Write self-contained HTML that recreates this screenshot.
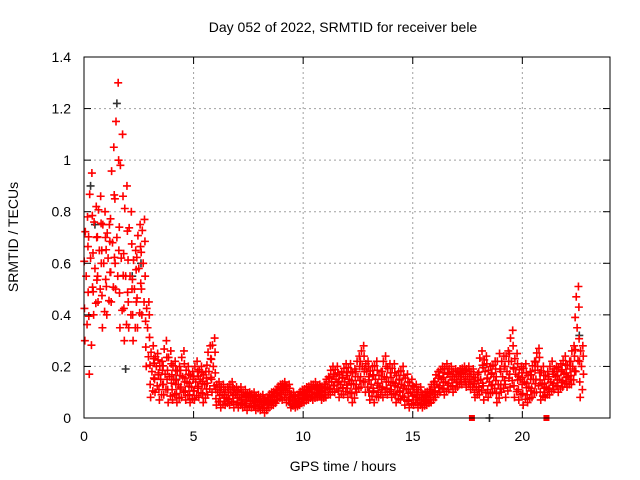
<!DOCTYPE html>
<html><head><meta charset="utf-8"><style>
body{margin:0;background:#fff;}
svg{display:block;font-family:"Liberation Sans",sans-serif;}
</style></head><body>
<svg id="chart" width="640" height="480" viewBox="0 0 640 480">
<rect width="640" height="480" fill="#fff"/>
<text x="343" y="32" font-size="14" text-anchor="middle">Day 052 of 2022, SRMTID for receiver bele</text>
<text x="343" y="471" font-size="14" text-anchor="middle">GPS time / hours</text>
<text transform="translate(18,237) rotate(-90)" font-size="14" text-anchor="middle">SRMTID / TECUs</text>
<g id="grid"></g>
<g id="marks"></g>
<g id="axes"></g>
</svg>
<script>
const xTicks=[0,5,10,15,20];
const yTicks=[0,0.2,0.4,0.6,0.8,1,1.2,1.4];
const yTickLabels=["0","0.2","0.4","0.6","0.8","1","1.2","1.4"];
const times=[0.1,0.3,0.5,0.7,0.9,1.1,1.3,1.5,1.7,1.9,2.1,2.3,2.5,2.7,2.9,3.1,3.3,3.5,3.7,3.9,4.1,4.3,4.5,4.7,4.9,5.1,5.3,5.5,5.7,5.9,6.1,6.3,6.5,6.7,6.9,7.1,7.3,7.5,7.7,7.9,8.1,8.3,8.5,8.7,8.9,9.1,9.3,9.5,9.7,9.9,10.1,10.3,10.5,10.7,10.9,11.1,11.3,11.5,11.7,11.9,12.1,12.3,12.5,12.7,12.9,13.1,13.3,13.5,13.7,13.9,14.1,14.3,14.5,14.7,14.9,15.1,15.3,15.5,15.7,15.9,16.1,16.3,16.5,16.7,16.9,17.1,17.3,17.5,17.7,17.9,18.1,18.3,18.5,18.7,18.9,19.1,19.3,19.5,19.7,19.9,20.1,20.3,20.5,20.7,20.9,21.1,21.3,21.5,21.7,21.9,22.1,22.3,22.5,22.7];
const midValues=[.55,.62,.58,.65,.6,.62,.68,.7,.62,.55,.55,.5,.58,.6,.35,.18,.2,.15,.17,.16,.15,.13,.16,.14,.12,.14,.15,.13,.18,.2,.1,.09,.08,.1,.09,.08,.07,.08,.07,.06,.06,.06,.07,.08,.1,.11,.1,.07,.06,.08,.09,.1,.1,.11,.1,.12,.14,.15,.13,.14,.15,.13,.16,.2,.18,.13,.15,.12,.16,.14,.14,.12,.13,.11,.1,.09,.08,.07,.08,.1,.13,.15,.14,.16,.15,.16,.17,.16,.15,.12,.15,.18,.14,.16,.13,.16,.18,.22,.17,.15,.14,.12,.15,.2,.13,.12,.14,.16,.15,.17,.16,.2,.35,.2];
const highValues=[.78,.95,.82,.86,.8,.75,1.05,1.3,1.1,.9,.8,.65,.75,.77,.45,.28,.25,.22,.3,.26,.22,.2,.26,.2,.18,.22,.2,.18,.28,.31,.14,.13,.12,.14,.12,.12,.11,.1,.1,.09,.09,.08,.1,.11,.13,.14,.13,.1,.09,.11,.12,.13,.14,.13,.13,.16,.2,.2,.18,.21,.21,.19,.24,.28,.22,.2,.22,.18,.24,.21,.21,.18,.2,.17,.15,.13,.12,.1,.11,.14,.18,.2,.21,.2,.19,.19,.2,.2,.19,.17,.26,.24,.2,.22,.25,.24,.26,.34,.25,.2,.21,.18,.22,.27,.2,.18,.22,.2,.21,.24,.22,.28,.51,.28];
const lowValues=[.3,.17,.4,.45,.35,.4,.45,.5,.35,.3,.35,.3,.35,.4,.2,.08,.1,.07,.09,.06,.07,.06,.08,.07,.06,.07,.08,.06,.09,.1,.05,.04,.05,.05,.04,.04,.04,.03,.04,.03,.03,.02,.04,.05,.07,.07,.06,.04,.04,.05,.06,.07,.07,.08,.07,.08,.09,.1,.08,.09,.08,.06,.1,.12,.1,.07,.06,.08,.08,.09,.08,.06,.07,.05,.04,.05,.04,.04,.05,.06,.08,.1,.09,.11,.1,.12,.13,.12,.11,.08,.09,.07,.08,.1,.06,.1,.08,.12,.08,.07,.05,.06,.08,.1,.07,.08,.09,.11,.1,.12,.12,.13,.18,.08];
const grayTimes=[0.3,0.5,1.5,1.9,2.2,2.6,4.2,9.5,13,18.5,22.6];
const grayValues=[.9,.75,1.22,.19,.55,.6,.15,.05,.1,0,.32];
const squareTimes=[17.7,21.1];
const squareValues=[0,0];

const L=84,R=610,T=57,B=418,XMAX=24,YMAX=1.4;
const sx=v=>L+v/XMAX*(R-L);
const sy=v=>B-v/YMAX*(B-T);
const NS="http://www.w3.org/2000/svg";
function mk(tag,attrs,parent){const e=document.createElementNS(NS,tag);for(const k in attrs)e.setAttribute(k,attrs[k]);parent.appendChild(e);return e;}
const grid=document.getElementById('grid'),marks=document.getElementById('marks'),axes=document.getElementById('axes');
xTicks.forEach(t=>{
  if(t>0){const g=mk('line',{x1:sx(t),x2:sx(t),y1:T,y2:B,stroke:'#a0a0a0','stroke-dasharray':'2,3'},grid);
  
  }
  mk('line',{x1:sx(t),x2:sx(t),y1:B,y2:B-7,stroke:'#000'},axes);
  mk('line',{x1:sx(t),x2:sx(t),y1:T,y2:T+7,stroke:'#000'},axes);
  const tx=mk('text',{x:sx(t),y:B+23,'font-size':14,'text-anchor':'middle'},axes);tx.textContent=t;
  
  
});
yTicks.forEach((t,i)=>{
  if(t>0&&t<YMAX){const g=mk('line',{x1:L,x2:R,y1:sy(t),y2:sy(t),stroke:'#a0a0a0','stroke-dasharray':'2,3'},grid);
  
  }
  mk('line',{x1:L,x2:L+7,y1:sy(t),y2:sy(t),stroke:'#000'},axes);
  mk('line',{x1:R,x2:R-7,y1:sy(t),y2:sy(t),stroke:'#000'},axes);
  const tx=mk('text',{x:L-13,y:sy(t)+5,'font-size':14,'text-anchor':'end'},axes);tx.textContent=yTickLabels[i];
  
  
});
mk('rect',{x:L,y:T,width:R-L,height:B-T,fill:'none',stroke:'#000'},axes);
function plus(x,y,c){return mk('path',{d:`M${x-4},${y}h8M${x},${y-4}v8`,stroke:c,'stroke-width':1.6,fill:'none'},marks);}
grayTimes.forEach((t,i)=>{const p=plus(sx(t),sy(grayValues[i]),'#333');
  
  });
times.forEach((t,i)=>{
  const lo=lowValues[i],mi=midValues[i],hi=highValues[i];
  const vals=[[lo,-0.06],[mi,0],[hi,0.06],[(lo+mi)/2,-0.08],[(mi+hi)/2,0.08],[(3*lo+mi)/4,0.04],[(mi+3*hi)/4,-0.04],[(lo+3*mi)/4,0.09],[(3*mi+hi)/4,-0.09]];
  vals.forEach(([v,dt])=>{
    const p=plus(sx(t+dt),sy(v),'#ff0000');
    
    
  });
});
squareTimes.forEach((t,i)=>{const s=mk('rect',{x:sx(t)-3,y:sy(squareValues[i])-3,width:6,height:6,fill:'#ff0000'},marks);
  
  });
</script>
</body></html>
